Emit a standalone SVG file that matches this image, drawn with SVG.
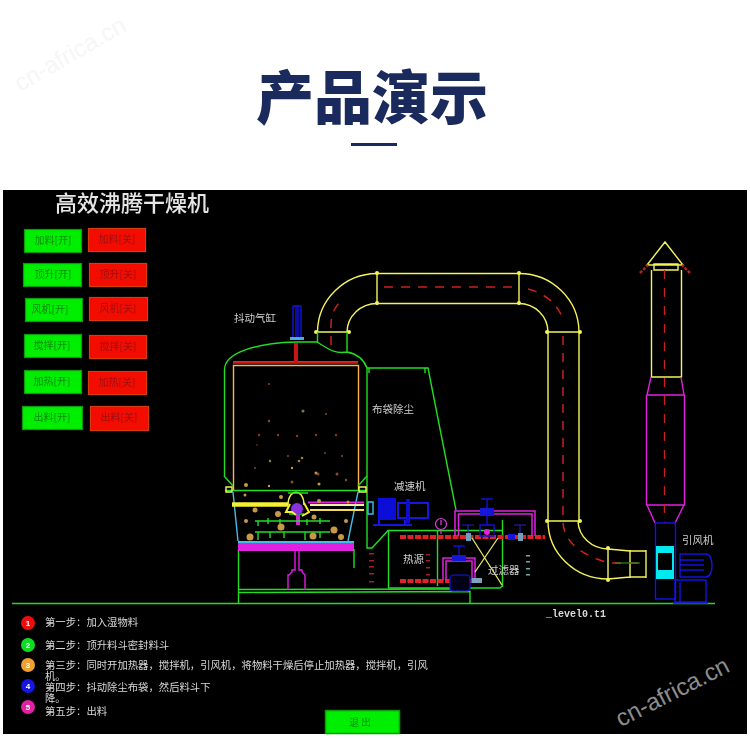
<svg xmlns="http://www.w3.org/2000/svg" width="750" height="741" viewBox="0 0 750 741">
<defs>
<filter id="soft" x="-2%" y="-2%" width="104%" height="104%"><feGaussianBlur stdDeviation="0.6"/></filter>
</defs>
<style>
text{font-family:"Liberation Sans","Noto Sans CJK SC",sans-serif}
.cjk{font-family:"Noto Sans CJK SC",sans-serif}
.n{fill:none;stroke-width:1.4}
.y{stroke:#f4f45a}.gr{stroke:#22dd22}.m{stroke:#e020e0}.b{stroke:#1414e0}.c{stroke:#40c0e8}.o{stroke:#ffb050}
.rd{fill:none;stroke:#c82020;stroke-width:1.5;stroke-dasharray:9 8}
.sv{fill:none;stroke:#c82020;stroke-width:1.3;stroke-dasharray:9 9}
.chain{fill:none;stroke:#e02020;stroke-width:4;stroke-dasharray:6 1.5}
.on{fill:#00ee00;stroke:#0a9a0a;stroke-width:1.2}
.off{fill:#f20a00;stroke:#d83a10;stroke-width:1.2}
.bl{font-size:10px;text-anchor:middle;font-family:"Noto Sans CJK SC",sans-serif}
.lg{font-size:10.35px;fill:#d8d8d8;font-family:"Noto Sans CJK SC",sans-serif}
.lb{font-size:10.5px;fill:#cfcfcf;font-family:"Noto Sans CJK SC",sans-serif}
.num{font-size:8px;font-weight:700;fill:#fff;text-anchor:middle}
.p{fill:#c89848}.q{fill:#8a4a30}
</style>
<rect width="750" height="741" fill="#fff"/>
<text x="74" y="61" transform="rotate(-30 74 61)" text-anchor="middle" font-size="24" fill="#f6f6f6" style="font-family:'Liberation Sans',sans-serif">cn-africa.cn</text>
<g id="header">
<text class="cjk" x="372" y="119" text-anchor="middle" font-size="58" font-weight="900" fill="#1a2a5c">产品演示</text>
<rect x="351" y="143" width="46" height="3" fill="#1a2a5c"/>
</g>
<rect x="3" y="190" width="744" height="544" fill="#000"/>
<g filter="url(#soft)">
<g id="title"><text class="cjk" x="55" y="211" font-size="22" font-weight="500" textLength="154" fill="#e6e6e6">高效沸腾干燥机</text></g>
<g id="buttons">
<g id="btn-feed-on"><rect class="on" x="24.500" y="229.500" width="57" height="23"/><text class="bl" x="53" y="244" fill="#0a8a0a">加料[开]</text></g>
<g id="btn-feed-off"><rect class="off" x="88.500" y="228.500" width="57" height="23"/><text class="bl" x="117" y="243" fill="#a01010">加料[关]</text></g>
<g id="btn-lift-on"><rect class="on" x="23.500" y="263.500" width="58" height="23"/><text class="bl" x="53" y="278" fill="#0a8a0a">顶升[开]</text></g>
<g id="btn-lift-off"><rect class="off" x="89.500" y="263.500" width="57" height="23"/><text class="bl" x="118" y="278" fill="#a01010">顶升[关]</text></g>
<g id="btn-fan-on"><rect class="on" x="25.500" y="298.500" width="57" height="23"/><text class="bl" x="50" y="313" fill="#0a8a0a">风机[开]</text></g>
<g id="btn-fan-off"><rect class="off" x="89.500" y="297.500" width="58" height="23"/><text class="bl" x="118" y="312" fill="#a01010">风机[关]</text></g>
<g id="btn-stir-on"><rect class="on" x="24.500" y="334.500" width="57" height="23"/><text class="bl" x="52" y="349" fill="#0a8a0a">搅拌[开]</text></g>
<g id="btn-stir-off"><rect class="off" x="89.500" y="335.500" width="57" height="23"/><text class="bl" x="118" y="350" fill="#a01010">搅拌[关]</text></g>
<g id="btn-heat-on"><rect class="on" x="24.500" y="370.500" width="57" height="23"/><text class="bl" x="52" y="385" fill="#0a8a0a">加热[开]</text></g>
<g id="btn-heat-off"><rect class="off" x="88.500" y="371.500" width="58" height="23"/><text class="bl" x="117" y="386" fill="#a01010">加热[关]</text></g>
<g id="btn-out-on"><rect class="on" x="22.500" y="406.500" width="60" height="23"/><text class="bl" x="52" y="421" fill="#0a8a0a">出料[开]</text></g>
<g id="btn-out-off"><rect class="off" x="90.500" y="406.500" width="58" height="24"/><text class="bl" x="119" y="421" fill="#a01010">出料[关]</text></g>
</g>
<g id="connectors">
<path class="n y" d="M317.500 332A60 59 0 0 1 377 273.500H519A60 59 0 0 1 579 332V521M347 332A30 29 0 0 1 377 303.500H519A29 29 0 0 1 548 332V521"/>
<path class="n y" d="M377 272V305M519 272V305M315 332H350M546 332H581M546 521H581"/>
<path class="n y" d="M548 521A60 58 0 0 0 608 579L630 577H646M578 521A30 29 0 0 0 608 549L630 551H646M608 547V581M630 550V578M646 550V578"/>
<g fill="#f4f45a"><circle cx="377" cy="273" r="2"/><circle cx="377" cy="303" r="2"/><circle cx="519" cy="273" r="2"/><circle cx="519" cy="303" r="2"/><circle cx="316" cy="332" r="2"/><circle cx="349" cy="332" r="2"/><circle cx="547" cy="332" r="2"/><circle cx="580" cy="332" r="2"/><circle cx="547" cy="521" r="2"/><circle cx="580" cy="521" r="2"/><circle cx="608" cy="548" r="2"/><circle cx="608" cy="580" r="2"/></g>
<path class="rd" d="M331 345V325C331 314 335 306 343 299"/>
<path class="rd" d="M384 287H519"/>
<path class="rd" d="M528 289C544 293 557 303 563 319"/>
<path class="rd" d="M563 336V521C563 535 572 552 606 562"/>
<path class="rd" d="M612 563H645"/>
<path d="M615 563H640" stroke="#22aa22" fill="none" stroke-width="1"/>
<path class="n gr" d="M12 603.500H715"/>
<path class="n gr" d="M238.500 549V603M238 592.500L470 591.500V603M238 589.500L468 589"/>
<path class="n gr" d="M367 368V548H372L388 530.500H502M388.500 530V588M437.500 531V586M388 588H500L502 586M502.500 520V587"/>
<path class="n gr" d="M367 368H428L456 510M369 368V373M425 368V373"/>
</g>
<g id="dryer">
<path class="n gr" d="M224.500 476V370C224 352 258 343 296 342H317C330 350 335 354 347 352C358 354 364 360 367 368M317.500 332V343M347 332V352"/>
<path class="n o" d="M233.500 490V365.500H358.500V490M233 362H358"/>
<path d="M233 362.500H358" stroke="#d01818" stroke-width="2.500"/>
<path d="M296 343V362" stroke="#c81818" stroke-width="4"/>
<path class="n gr" d="M224 476L233 486M367 476L358 486M225 490.500H367"/>
<path class="n y" d="M226 487H232V492H226ZM359 487H366V492H359Z"/>
<path class="n c" d="M233 492L238 541M358 492L348 541"/>
<rect x="238" y="541" width="116" height="2" fill="#40c0e8"/>
<rect x="238" y="543" width="116" height="8" fill="#e020e0"/>
<path class="n gr" d="M354 549V568"/>
<path class="n m" d="M295 551V570H292V572L289 575H288V590M299 551V570H302V572L305 575V590"/>
<path d="M232 504.500H288" stroke="#f4f030" stroke-width="4.500"/>
<path d="M310 505H364" stroke="#f0f0a0" stroke-width="2"/><path d="M308 502.500H364" stroke="#e020e0" stroke-width="2"/><path d="M310 510H364" stroke="#f4e050" stroke-width="2"/>
<path class="n y" d="M288 505C288 488 304 488 304 505"/>
<path class="n gr" d="M288 493H308M289 514H304"/>
<circle cx="297" cy="509" r="6" fill="#8a30e0"/>
<path d="M298 515V525" stroke="#d020d0" stroke-width="4"/>
<path d="M290 504L286 512H292L296 515M304 503L309 512L302 516" stroke="#f4f030" stroke-width="2" fill="none"/>
<path class="n gr" d="M255 521H330M258 521V526M268 518V524M280 519V525M307 519V525M320 518V524M255 532H330M258 532V540M270 532V538M284 532V538M305 532V540M320 532V538"/>
<circle cx="250" cy="537" r="3.500" class="p"/><circle cx="281" cy="527" r="3.500" class="p"/><circle cx="313" cy="536" r="3.500" class="p"/><circle cx="334" cy="530" r="3.500" class="p"/><circle cx="341" cy="537" r="3" class="p"/><circle cx="255" cy="510" r="2.500" class="p"/><circle cx="278" cy="514" r="3" class="p"/><circle cx="314" cy="517" r="2.500" class="p"/><circle cx="346" cy="521" r="2" class="p"/><circle cx="246" cy="521" r="2" class="p"/><circle cx="245" cy="495" r="1.500" class="p"/><circle cx="281" cy="497" r="2" class="p"/><circle cx="319" cy="501" r="2" class="p"/><circle cx="348" cy="502" r="1.500" class="p"/><circle cx="316" cy="473" r="1.500" class="p"/><circle cx="246" cy="485" r="2" class="p"/><circle cx="292" cy="468" r="1.200" class="p"/><circle cx="269" cy="486" r="1.200" class="p"/><circle cx="292" cy="482" r="1.500" class="q"/><circle cx="318" cy="474" r="1.500" class="q"/><circle cx="319" cy="484" r="1.500" class="p"/><circle cx="337" cy="474" r="1.500" class="q"/><circle cx="346" cy="480" r="1.200" class="q"/>
<circle cx="269" cy="384" r="1" class="q"/><circle cx="303" cy="411" r="1.500" fill="#8a7050"/><circle cx="326" cy="414" r="1" class="q"/><circle cx="269" cy="421" r="1.200" class="q"/><circle cx="259" cy="435" r="1.200" fill="#a03020"/><circle cx="278" cy="435" r="1.200" fill="#a03020"/><circle cx="297" cy="436" r="1.200" fill="#a03020"/><circle cx="316" cy="435" r="1.200" fill="#a03020"/><circle cx="336" cy="435" r="1.200" fill="#a03020"/><circle cx="257" cy="445" r=".8" class="q"/><circle cx="288" cy="456" r="1" class="q"/><circle cx="302" cy="458" r="1.300" fill="#9a8050"/><circle cx="299" cy="461" r="1.300" fill="#9a8050"/><circle cx="270" cy="461" r="1.200" fill="#9a8050"/><circle cx="325" cy="453" r=".9" class="q"/><circle cx="342" cy="456" r="1" class="q"/><circle cx="255" cy="468" r=".9" class="q"/>
</g>
<g id="cylinder"><path class="n b" d="M293 306V337M301 306V337M293 306H301M296 306V337M298 306V337"/><rect x="290" y="337" width="14" height="3" fill="#40b0e0"/></g>
<g id="reducer">
<path class="n c" d="M368 502V514H373V502Z"/>
<rect x="378" y="498" width="18" height="22" fill="#1010d8"/>
<rect x="398" y="503" width="30" height="15" fill="none" stroke="#1414e0" stroke-width="2"/>
<rect x="406" y="499" width="4" height="24" fill="#1010c8"/>
<path d="M373 525H412M379 520V526M405 520V526" stroke="#1414d8" stroke-width="2" fill="none"/>
</g>
<g id="pipes">
<circle cx="441" cy="524" r="5.500" fill="none" stroke="#e040e0" stroke-width="1.200"/><path d="M441 520V525M441 530V534" stroke="#e040e0" stroke-width="1.200"/>
<path class="chain" d="M400 537H545"/><path class="chain" d="M400 581H481"/>
<path d="M455 536V511H535V536M458.500 536V514H532V536" fill="none" stroke="#e020e0" stroke-width="1.500"/>
<path d="M443 580V558H475V580M446 580V561H472V580" fill="none" stroke="#e020e0" stroke-width="1.500"/>
<rect x="480" y="508" width="14" height="8" fill="#1212d8"/><path d="M487 499V508M481 499H493M487 516V525M480 525H494V536H480Z" stroke="#1212d8" fill="none" stroke-width="1.300"/>
<rect x="452" y="555" width="14" height="6" fill="#1212d8"/><path d="M459 546V555M453 546H465" stroke="#1212d8" stroke-width="1.300"/>
<path d="M468 525V534M462 525H474M520 525V534M514 525H526" stroke="#2020c0" stroke-width="1.200"/>
<circle cx="487" cy="532" r="3" fill="#e020e0"/>
<rect x="466" y="533" width="5" height="8" fill="#70a0c0"/><rect x="518" y="533" width="5" height="8" fill="#70a0c0"/><rect x="508" y="534" width="7" height="6" fill="#1212d8"/>
<rect x="450" y="575" width="20" height="16" rx="3" fill="#030318" stroke="#1212d8" stroke-width="1.200"/>
<rect x="472" y="578" width="10" height="5" fill="#80a0c0"/>
<path d="M472 538L502 585M498 538L475 572" stroke="#e8e860" stroke-width="1.300" fill="none"/>
<g fill="#a02020"><rect x="369" y="553" width="5" height="1.500"/><rect x="369" y="560" width="5" height="1.500"/><rect x="369" y="566" width="5" height="1.500"/><rect x="369" y="573" width="5" height="1.500"/><rect x="369" y="581" width="5" height="1.500"/><rect x="426" y="554" width="4" height="1.500"/><rect x="426" y="560" width="4" height="1.500"/><rect x="426" y="567" width="4" height="1.500"/><rect x="426" y="574" width="4" height="1.500"/></g>
<g fill="#7aa8a8"><rect x="526" y="555" width="4" height="1.500"/><rect x="526" y="561" width="4" height="1.500"/><rect x="526" y="568" width="4" height="1.500"/><rect x="526" y="574" width="4" height="1.500"/></g>
</g>
<g id="stack">
<path class="n y" d="M647 265L665 242L683 265ZM654 264H678V270H654ZM651.500 270V377H681.500V270"/>
<path class="n m" d="M651 377L647 395H684L681 377M646.500 395V505H684.500V395M647 505L655 523M684 505L675 523M647 505H684"/>
<path class="sv" d="M664.500 270V523"/>
<path d="M640 273L648 265M690 273L682 265" stroke="#b02020" stroke-width="2.500" stroke-dasharray="3 1.500"/>
</g>
<g id="fan">
<path class="n b" d="M655.500 523V599H675.500V523ZM655 523H675"/>
<rect x="656" y="546" width="18" height="33" fill="#00e8f0"/><rect x="658" y="553" width="14" height="17" fill="#000"/>
<path class="n b" d="M680 554H706C714 554 714 577 706 577H680ZM680 560H704M680 565H704M680 570H704M675 580H706V602H675ZM680 582V602M673 603H708"/>
</g>
<g id="labels">
<text class="lb" x="234" y="322">抖动气缸</text>
<text class="lb" x="372" y="413">布袋除尘</text>
<text class="lb" x="394" y="490">减速机</text>
<text class="lb" x="403" y="563">热源</text>
<text class="lb" x="488" y="574">过滤器</text>
<text class="lb" x="682" y="544">引风机</text>
<text x="546" y="617" font-size="10" font-weight="700" fill="#d8d8d8" style="font-family:'Liberation Mono',monospace">_level0.t1</text>
</g>
<g id="steps">
<g id="step1"><circle cx="28" cy="623" r="7" fill="#ee1111"/><text class="num" x="28" y="626">1</text><text class="lg" x="45" y="626">第一步：加入湿物料</text></g>
<g id="step2"><circle cx="28" cy="645" r="7" fill="#11dd22"/><text class="num" x="28" y="648">2</text><text class="lg" x="45" y="649">第二步：顶升料斗密封料斗</text></g>
<g id="step3"><circle cx="28" cy="665" r="7" fill="#f0a030"/><text class="num" x="28" y="668">3</text><text class="lg" x="45" y="669">第三步：同时开加热器，搅拌机，引风机，将物料干燥后停止加热器，搅拌机，引风<tspan x="45" dy="11">机。</tspan></text></g>
<g id="step4"><circle cx="28" cy="686" r="7" fill="#1414e0"/><text class="num" x="28" y="689">4</text><text class="lg" x="45" y="691">第四步：抖动除尘布袋，然后料斗下<tspan x="45" dy="11">降。</tspan></text></g>
<g id="step5"><circle cx="28" cy="707" r="7" fill="#e020a0"/><text class="num" x="28" y="710">5</text><text class="lg" x="45" y="715">第五步：出料</text></g>
</g>
<g id="exit"><rect x="325.500" y="710.500" width="74" height="23" fill="#00ee00" stroke="#0a9a0a" stroke-width="1.500"/><text class="bl" x="360" y="726" fill="#0a8a0a">退 出</text></g>
</g>
<text x="676" y="699" transform="rotate(-27 676 699)" text-anchor="middle" font-size="24" fill="#8c8c8c" style="font-family:'Liberation Sans',sans-serif">cn-africa.cn</text>
</svg>
